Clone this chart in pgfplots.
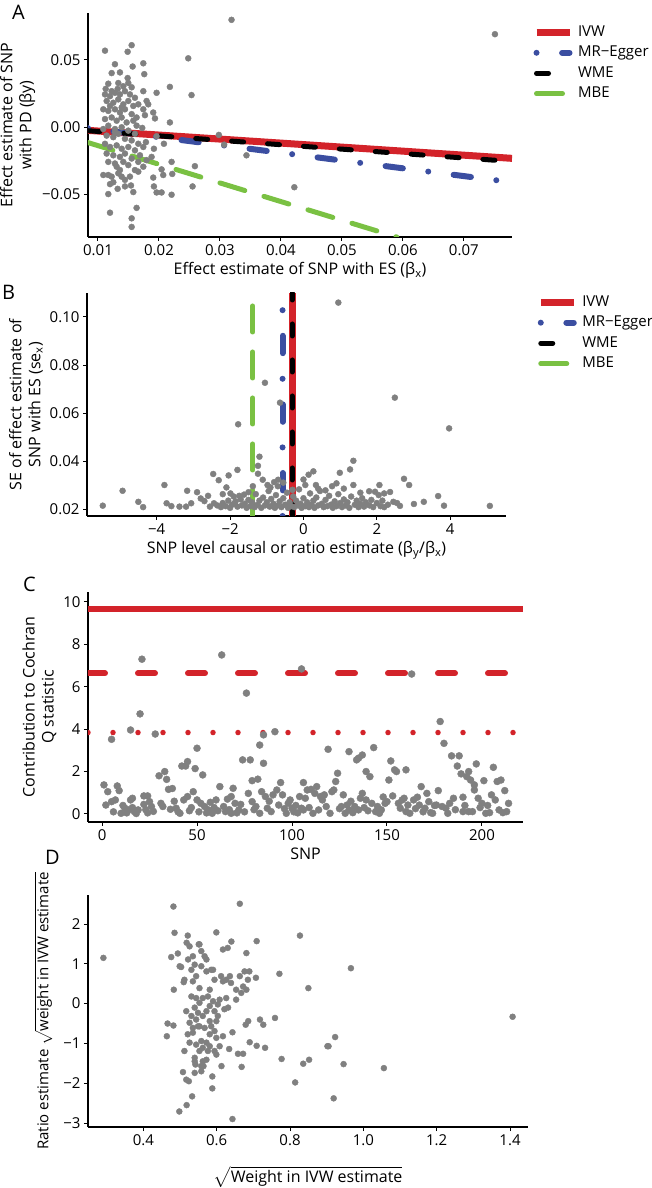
\RequirePackage{fix-cm}
\documentclass[border=0pt]{standalone}
\usepackage{exscale}
\usepackage{fontspec}
\setmainfont{Open Sans}
\usepackage{pgfplots}
\pgfplotsset{compat=1.18}

\definecolor{ivwred}{RGB}{211,35,42}
\definecolor{eggerblue}{RGB}{59,78,161}
\definecolor{mbegreen}{RGB}{122,193,67}
\definecolor{ptgray}{RGB}{128,128,128}

\pgfplotsset{
  panel/.style={
    scale only axis, axis lines=left, axis line style={-, line width=1.3pt},
    tick align=outside, major tick length=4pt,
    tick style={line width=1pt, black},
    scaled ticks=false,
    ticklabel style={font=\fontsize{15}{18}\selectfont},
    label style={font=\fontsize{16}{19}\selectfont},
    ylabel style={align=center},
    legend image code/.code={\draw[##1] (0pt,0pt) -- (33pt,0pt);},
    legend cell align=left,
  },
  leg/.style={draw=none, fill=none, anchor=north west,
    font=\fontsize{15}{18}\selectfont, row sep=6.5pt, column sep=5pt,
    nodes={inner sep=0pt, text height=11pt, text depth=3pt}},
  pts/.style={only marks, mark=*, mark size=3pt, color=ptgray, forget plot},
  ivw/.style={ivwred, line width=7pt},
  egger/.style={eggerblue, line width=6pt, line cap=round, dash pattern=on 0pt off 25.6pt on 17.4pt off 25.6pt},
  wme/.style={black, line width=5pt, line cap=round, dash pattern=on 12pt off 24pt},
  mbe/.style={mbegreen, line width=5pt, line cap=round, dash pattern=on 26pt off 20pt},
}

\begin{document}
\begin{tikzpicture}
\path[use as bounding box] (0,0) rectangle (652pt,1188pt);

% ---------------- A
\begin{axis}[panel, at={(88pt,951pt)}, anchor=south west, width=424pt, height=224pt,
  xmin=0.00836, xmax=0.0779, ymin=-0.082, ymax=0.085,
  xtick={0.01,0.02,0.03,0.04,0.05,0.06,0.07},
  xticklabels={0.01,0.02,0.03,0.04,0.05,0.06,0.07},
  ytick={-0.05,0,0.05}, yticklabels={−0.05,0.00,0.05},
  xlabel={Effect estimate of SNP with ES (β\textsubscript{x})},
  ylabel={Effect estimate of SNP\\with PD (βy)},
  legend style={leg, at={(1.042,0.955)}},
]
\addplot[pts] coordinates {
(0.01552,0.0610) (0.01486,0.0561) (0.01115,0.0569) (0.02480,0.0512) (0.01278,0.0468)
(0.01568,0.0451) (0.01743,0.0475) (0.01360,0.0407) (0.01224,0.0402) (0.01486,0.0365)
(0.01497,0.0328) (0.01759,0.0394) (0.01552,0.0296) (0.01169,0.0323) (0.01322,0.0284)
(0.01415,0.0304) (0.01126,0.0284) (0.01961,0.0255) (0.02179,0.0299) (0.01743,0.0267)
(0.01797,0.0194) (0.01824,0.0169) (0.01906,0.0108) (0.01934,0.0064) (0.02179,0.0034)
(0.02534,0.0238) (0.01743,0.0132) (0.01770,0.0088) (0.01726,-0.0007) (0.01115,0.0243)
(0.01197,0.0230) (0.01278,0.0255) (0.01360,0.0243) (0.01442,0.0267) (0.01524,0.0243)
(0.01606,0.0218) (0.01142,0.0194) (0.01251,0.0181) (0.01333,0.0206) (0.01415,0.0169)
(0.01497,0.0194) (0.01579,0.0157) (0.01087,0.0132) (0.01169,0.0120) (0.01278,0.0132)
(0.01360,0.0108) (0.01442,0.0132) (0.01552,0.0096) (0.01633,0.0071) (0.01115,0.0059)
(0.01224,0.0071) (0.01306,0.0047) (0.01388,0.0071) (0.01470,0.0034) (0.01579,0.0047)
(0.01169,0.0010) (0.01278,-0.0015) (0.01388,-0.0002) (0.01497,-0.0027) (0.01606,-0.0051)
(0.01142,-0.0064) (0.01251,-0.0076) (0.01333,-0.0051) (0.01442,-0.0088) (0.01552,-0.0100)
(0.01661,-0.0125) (0.01115,-0.0125) (0.01197,-0.0149) (0.01306,-0.0137) (0.01388,-0.0162)
(0.01497,-0.0149) (0.01606,-0.0174) (0.01142,-0.0198) (0.01251,-0.0211) (0.01360,-0.0223)
(0.01442,-0.0198) (0.01552,-0.0235) (0.01169,-0.0260) (0.01278,-0.0272) (0.01415,-0.0260)
(0.01497,-0.0284) (0.01661,-0.0260) (0.01606,-0.0321) (0.01743,-0.0296) (0.01360,-0.0321)
(0.01306,-0.0296) (0.01087,-0.0358) (0.01169,-0.0358) (0.01224,-0.0370) (0.01333,-0.0345)
(0.01442,-0.0394) (0.01251,-0.0412) (0.01197,-0.0426) (0.01169,-0.0500) (0.01322,-0.0461)
(0.01442,-0.0443) (0.01541,-0.0436) (0.01579,-0.0485) (0.01633,-0.0603) (0.01197,-0.0639)
(0.01552,-0.0681) (0.01552,-0.0745) (0.01961,-0.0069) (0.02081,-0.0125) (0.01917,-0.0162)
(0.01879,-0.0223) (0.01786,-0.0113) (0.02207,-0.0260) (0.02218,-0.0350) (0.02070,-0.0358)
(0.02043,-0.0316) (0.01906,-0.0377) (0.01917,-0.0443) (0.01961,-0.0488) (0.02043,-0.0488)
(0.02207,-0.0505) (0.02551,-0.0443) (0.02589,-0.0292) (0.02982,-0.0059) (0.03069,-0.0132)
(0.03435,-0.0211) (0.01743,-0.0149) (0.01688,-0.0211) (0.01797,-0.0247) (0.01661,-0.0333)
(0.01388,-0.0370) (0.01524,-0.0370) (0.01278,-0.0039) (0.01197,0.0157) (0.01388,0.0145)
(0.01224,0.0267) (0.01333,0.0328) (0.01087,-0.0015) (0.01633,0.0010) (0.01661,0.0169)
(0.0319,0.0799) (0.0422,-0.0449) (0.0751,0.0692)
};
\addplot[ivw] coordinates {(0.00836,-0.00251) (0.0779,-0.02337)};
\addlegendentry{IVW}
\addplot[egger] coordinates {(0.00836,-0.00085) (0.0779,-0.04118)};
\addlegendentry{MR−Egger}
\addplot[wme] coordinates {(0.00836,-0.00276) (0.0779,-0.02571)};
\addlegendentry{WME}
\addplot[mbe] coordinates {(0.00836,-0.01162) (0.059,-0.0820)};
\addlegendentry{MBE}
\end{axis}

% ---------------- B
\begin{axis}[panel, at={(87pt,672pt)}, anchor=south west, width=419pt, height=223pt,
  xmin=-5.9, xmax=5.52, ymin=0.0171, ymax=0.11,
  xtick={-4,-2,0,2,4}, xticklabels={−4,−2,0,2,4},
  ytick={0.02,0.04,0.06,0.08,0.10}, yticklabels={0.02,0.04,0.06,0.08,0.10},
  xlabel={SNP level causal or ratio estimate (β\textsubscript{y}/β\textsubscript{x})},
  ylabel={SE of effect estimate of\\SNP with ES (se\textsubscript{x})},
  legend style={leg, at={(1.067,1.0)}},
]
\addplot[pts] coordinates {
(-1.05,0.0726) (-0.64,0.0643) (-1.78,0.0553) (-1.2,0.0418) (0.95,0.106) (2.49,0.0664)
(3.97,0.0536) (5.08,0.0213) (-5.47,0.0214) (-4.93,0.0276) (-4.5,0.023) (-4.37,0.0208)
(-3.79,0.030) (-3.73,0.0224) (-3.6,0.0212) (-3.38,0.021) (-3.2,0.021) (-3.06,0.0224)
(-3.17,0.0276) (-2.9,0.027) (-2.8,0.0244) (-2.7,0.0233) (-2.55,0.021) (-2.44,0.0224)
(-2.46,0.0346) (-2.31,0.032) (-2.04,0.034) (-1.8,0.0363) (-2.1,0.029) (-1.99,0.0265)
(-1.9,0.0252) (-1.85,0.0232) (-1.71,0.024) (-1.62,0.026) (-1.24,0.0347) (-1.11,0.0322)
(-0.98,0.030) (-0.8,0.0312) (-0.69,0.0322) (-1.24,0.038) (0.0,0.0323) (0.14,0.0343)
(0.27,0.0357) (0.34,0.030) (0.99,0.0351) (1.27,0.0365) (1.36,0.0401) (0.9,0.0307)
(1.36,0.030) (1.79,0.0274) (2.07,0.030) (2.36,0.0271) (2.74,0.0326) (2.88,0.030)
(3.67,0.0254) (3.83,0.0214) (3.01,0.0221) (3.28,0.023) (2.63,0.0213) (2.45,0.023)
(-2.35,0.0215) (-2.25,0.0208) (-2.2,0.0225) (-2.12,0.0212) (-2.05,0.0235) (-2.0,0.0205)
(-1.95,0.0218) (-1.88,0.0224) (-1.8,0.021) (-1.75,0.0255) (-1.68,0.0215) (-1.6,0.0222)
(-1.55,0.0205) (-1.5,0.0238) (-1.45,0.0212) (-1.4,0.0228) (-1.33,0.0208) (-1.3,0.0262)
(-1.25,0.0218) (-1.2,0.0235) (-1.15,0.0205) (-1.1,0.0248) (-1.05,0.0215) (-1.0,0.0228)
(-0.95,0.0275) (-0.92,0.021) (-0.88,0.0242) (-0.82,0.0222) (-0.78,0.0205) (-0.75,0.0258)
(-0.7,0.0215) (-0.65,0.0232) (-0.6,0.0208) (-0.55,0.0245) (-0.5,0.0218) (-0.45,0.0268)
(-0.42,0.0205) (-0.38,0.0228) (-0.33,0.0212) (-0.28,0.0252) (-0.25,0.0208) (-0.2,0.0235)
(-0.15,0.0215) (-0.12,0.0282) (-0.08,0.0222) (-0.05,0.0205) (0.0,0.0245) (0.05,0.0212)
(0.1,0.0228) (0.15,0.0208) (0.18,0.0265) (0.22,0.0218) (0.27,0.0235) (0.3,0.0205)
(0.35,0.0248) (0.4,0.0215) (0.45,0.0275) (0.5,0.0222) (0.55,0.0208) (0.6,0.0238)
(0.65,0.0212) (0.7,0.0255) (0.75,0.0218) (0.8,0.0205) (0.85,0.0232) (0.9,0.0212)
(0.95,0.0262) (1.0,0.0225) (1.05,0.0208) (1.1,0.024) (1.15,0.0215) (1.2,0.0228)
(1.25,0.0205) (1.3,0.0252) (1.4,0.0218) (1.45,0.0235) (1.5,0.0208) (1.55,0.0222)
(1.6,0.0245) (1.65,0.021) (1.7,0.0228) (1.8,0.0215) (1.85,0.0238) (1.9,0.0208)
(2.0,0.0225) (2.05,0.0258) (2.1,0.0212) (2.15,0.0235) (2.2,0.0208) (2.3,0.0218)
(2.55,0.0225) (-1.5,0.027) (-1.38,0.0295) (-0.9,0.029) (-0.55,0.031) (-0.3,0.028)
(0.05,0.030) (0.4,0.0285) (0.6,0.0278) (0.78,0.0295) (1.1,0.0285) (1.55,0.0268)
(1.95,0.0272) (2.2,0.0265) (-2.6,0.0255) (-2.2,0.0262) (-0.7,0.0295)
};
\addplot[ivw] coordinates {(-0.31,0.0171) (-0.31,0.11)};
\addlegendentry{IVW}
\addplot[egger] coordinates {(-0.57,0.0171) (-0.57,0.11)};
\addlegendentry{MR−Egger}
\addplot[wme] coordinates {(-0.31,0.0171) (-0.31,0.11)};
\addlegendentry{WME}
\addplot[mbe] coordinates {(-1.38,0.0171) (-1.38,0.11)};
\addlegendentry{MBE}
\end{axis}

% ---------------- C
\begin{axis}[panel, at={(88pt,366pt)}, anchor=south west, width=435pt, height=230pt,
  xmin=-7.4, xmax=221.6, ymin=-0.38, ymax=10.47,
  xtick={0,50,100,150,200}, xticklabels={0,50,100,150,200},
  ytick={0,2,4,6,8,10}, yticklabels={0,2,4,6,8,10},
  xlabel={SNP},
  ylabel={Contribution to Cochran\\Q statistic},
]
\addplot[pts, mark size=3.5pt] coordinates {
(1,1.37) (2,0.42) (3,1.05) (5,3.52) (5,0.58) (6,0.1) (7,0.66) (8,1.32) (9,1.1) (10,0.03)
(11,0.4) (12,0.27) (13,0.05) (14,0.19) (15,3.96) (15,0.66) (16,0.3) (16,0.74) (17,0.11)
(18,0.02) (19,0.19) (20,4.72) (21,7.3) (22,0.85) (22,0.45) (23,0.2) (24,0.85) (24,0.05)
(25,0.58) (26,0.35) (27,0.12) (28,3.77) (30,1.8) (31,0.5) (32,0.35) (33,2.0) (34,1.63)
(35,1.16) (36,0.22) (37,1.2) (38,0.6) (39,0.27) (40,0.1) (41,0.03) (42,2.26) (43,0.66)
(44,2.26) (45,2.47) (45,0.82) (46,0.15) (47,0.3) (48,1.05) (49,2.14) (50,3.1) (50,0.66)
(51,0.1) (52,0.5) (53,1.84) (54,0.35) (55,0.05) (56,0.19) (57,0.55) (58,0.03) (59,0.3)
(60,0.66) (61,0.15) (62,1.29) (63,7.5) (64,0.35) (65,0.11) (66,0.7) (67,0.2) (68,0.03)
(68,0.82) (69,1.21) (70,0.5) (71,0.05) (72,0.19) (73,0.45) (74,2.55) (75,0.1) (76,5.7)
(77,0.97) (78,2.55) (79,0.58) (79,1.57) (80,0.2) (81,0.35) (82,1.64) (83,0.03) (83,3.25)
(84,1.05) (85,2.39) (85,3.73) (86,0.82) (87,0.27) (88,0.6) (89,0.11) (90,0.9) (91,3.88)
(92,1.13) (93,0.42) (94,1.48) (95,0.9) (96,0.25) (97,0.03) (98,0.5) (99,0.66) (100,0.27)
(101,0.1) (102,0.4) (103,0.05) (104,0.82) (105,6.84) (105,0.27) (106,1.48) (106,0.19)
(107,0.74) (108,1.13) (109,0.3) (110,1.16) (111,0.03) (112,0.97) (113,1.29) (114,0.19)
(115,0.82) (116,0.66) (117,0.9) (118,0.35) (119,3.05) (120,0.03) (121,1.05) (122,1.13)
(123,1.53) (124,1.92) (125,0.25) (126,0.35) (127,0.9) (128,0.03) (129,0.42) (130,0.19)
(130,2.94) (131,0.6) (132,0.06) (133,0.35) (134,2.55) (135,2.63) (135,0.19) (136,0.74)
(137,2.78) (137,0.97) (138,0.3) (139,0.66) (139,2.0) (140,0.15) (141,1.76) (142,0.5)
(143,3.13) (144,0.11) (145,0.35) (146,0.03) (147,0.19) (148,0.8) (149,0.5) (150,0.58)
(151,1.6) (152,2.5) (153,0.85) (154,2.08) (155,2.0) (156,0.5) (157,0.27) (158,0.66)
(159,0.74) (160,0.11) (160,2.08) (161,0.42) (162,0.03) (163,6.6) (164,0.66) (165,0.25)
(166,0.79) (167,0.42) (168,1.29) (169,0.1) (170,0.27) (171,0.97) (172,0.58) (173,0.06)
(174,0.03) (175,0.4) (176,0.42) (177,1.1) (178,4.36) (179,0.35) (180,3.33) (181,0.27)
(182,0.03) (183,0.5) (184,2.74) (185,0.74) (186,0.2) (187,2.26) (188,2.74) (189,1.89)
(190,0.79) (190,0.11) (191,0.4) (192,1.76) (193,2.0) (193,0.11) (194,1.6) (195,0.11)
(196,1.13) (196,1.37) (197,2.36) (198,0.74) (199,0.3) (200,0.5) (201,1.57) (202,0.03)
(203,0.4) (204,0.06) (205,0.9) (206,2.2) (207,0.66) (208,1.53) (209,0.19) (210,1.6)
(211,0.06) (212,1.1) (213,0.11) (214,0.5)
};
\addplot[ivwred, line width=6pt] coordinates {(-7.4,9.67) (221.6,9.67)};
\addplot[ivwred, line width=6pt, line cap=round, dash pattern=on 17pt off 33pt] coordinates {(-7.4,6.63) (221.6,6.63)};
\addplot[ivwred, line width=5.5pt, line cap=round, dash pattern=on 0pt off 25pt] coordinates {(-7.4,3.84) (221.6,3.84)};
\end{axis}

% ---------------- D
\begin{axis}[panel, at={(88pt,61pt)}, anchor=south west, width=440pt, height=232pt,
  xmin=0.249, xmax=1.449, ymin=-3.1, ymax=2.73,
  xtick={0.4,0.6,0.8,1.0,1.2,1.4}, xticklabels={0.4,0.6,0.8,1.0,1.2,1.4},
  ytick={-3,-2,-1,0,1,2}, yticklabels={−3,−2,−1,0,1,2},
  xlabel={$\sqrt{\mbox{Weight in IVW estimate}}$},
  xlabel style={yshift=-14pt},
  ylabel={Ratio estimate $\sqrt{\mbox{weight in IVW estimate}}$},
  ylabel style={font=\fontsize{15}{18}\selectfont, yshift=4pt},
]
\addplot[pts] coordinates {
(0.518,1.53) (0.526,1.44) (0.553,1.49) (0.558,1.32) (0.567,1.19) (0.535,1.19) (0.540,0.98)
(0.531,0.85) (0.544,0.69) (0.558,0.94) (0.572,0.81) (0.585,0.85) (0.594,0.60) (0.612,0.69)
(0.617,0.56) (0.626,0.60) (0.639,0.52) (0.653,0.35) (0.535,0.56) (0.553,0.39) (0.581,0.35)
(0.531,0.18) (0.544,0.14) (0.562,0.14) (0.576,0.18) (0.590,0.06) (0.603,-0.02) (0.608,0.10)
(0.626,0.14) (0.631,-0.10) (0.540,-0.10) (0.549,-0.23) (0.562,-0.31) (0.544,-0.40)
(0.572,-0.19) (0.581,-0.44) (0.585,-0.57) (0.594,-0.69) (0.581,-0.77) (0.599,-0.86)
(0.608,-1.07) (0.617,-0.82) (0.521,-0.77) (0.535,-0.73) (0.526,-0.98) (0.544,-1.03)
(0.558,-0.94) (0.572,-0.98) (0.562,-1.11) (0.581,-1.07) (0.594,-1.19) (0.599,-1.28)
(0.512,-1.19) (0.576,-1.19) (0.553,-1.19) (0.540,-1.36) (0.562,-1.45) (0.558,-1.57)
(0.542,-1.53) (0.549,-0.57) (0.567,-0.61) (0.599,-0.44) (0.603,-0.31) (0.621,-0.14)
(0.594,-0.19) (0.581,-0.06) (0.553,0.02) (0.636,0.69) (0.663,0.69) (0.672,0.43)
(0.681,0.35) (0.667,0.27) (0.653,0.10) (0.685,0.60) (0.617,1.36) (0.630,1.40) (0.676,0.81)
(0.499,0.94) (0.551,1.49) (0.572,1.11) (0.590,0.85) (0.522,1.11) (0.512,0.60) (0.531,-0.31)
(0.553,-0.57) (0.535,-0.61) (0.526,-0.48)
(0.482,2.44) (0.663,2.51) (0.485,1.78) (0.521,1.71) (0.599,1.79) (0.640,1.56) (0.709,1.57)
(0.681,1.27) (0.827,1.71) (0.771,0.75) (0.850,0.39) (0.707,0.65) (0.689,0.81) (0.476,1.17)
(0.494,1.26) (0.483,0.35) (0.503,0.92) (0.510,0.54) (0.466,-0.50) (0.482,-0.55)
(0.464,-0.82) (0.517,-0.19) (0.759,-0.36) (0.718,-0.40) (0.727,-0.53) (0.686,-0.44)
(0.679,-0.53) (0.690,-0.97) (0.709,-1.06) (0.732,-1.11) (0.777,-1.39) (0.836,-1.51)
(0.852,-1.41) (0.814,-1.98) (0.902,-1.07) (0.668,-1.59) (0.658,-1.26) (0.672,-1.26)
(0.643,-0.72) (0.634,-1.14) (0.613,-1.57) (0.588,-1.83) (0.588,-2.13) (0.533,-2.33)
(0.518,-2.55) (0.498,-2.71) (0.643,-2.90) (0.508,-1.72) (0.517,-1.91) (0.524,-1.95)
(0.540,-1.74) (0.558,-1.70) (0.564,-1.57) (0.540,-1.45) (0.572,-1.41) (0.291,1.15)
(0.966,0.89) (1.407,-0.33) (0.923,-0.84) (0.905,-1.07) (0.946,-1.52) (1.056,-1.62)
(0.919,-2.38)
};
\end{axis}

% panel letters
\node[font=\fontsize{20}{24}\selectfont, anchor=north west, inner sep=0pt] at (12pt,1183pt) {A};
\node[font=\fontsize{20}{24}\selectfont, anchor=north west, inner sep=0pt] at (2pt,903pt) {B};
\node[font=\fontsize{20}{24}\selectfont, anchor=north west, inner sep=0pt] at (23pt,611pt) {C};
\node[font=\fontsize{20}{24}\selectfont, anchor=north west, inner sep=0pt] at (45pt,338pt) {D};
\end{tikzpicture}
\end{document}
